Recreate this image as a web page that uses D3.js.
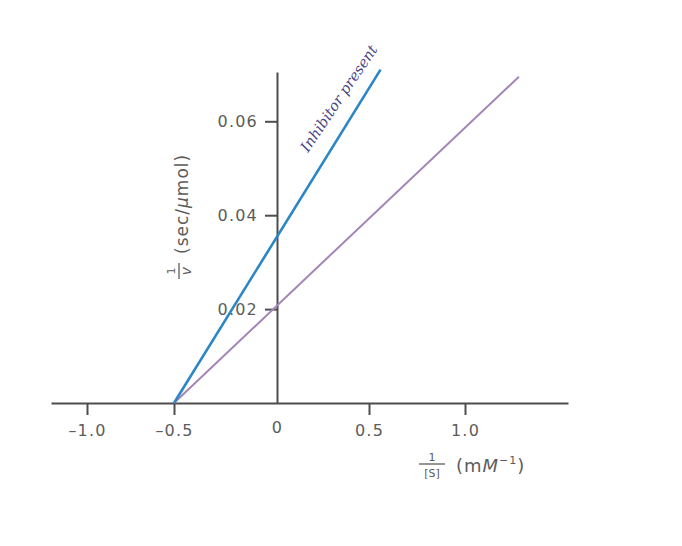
<!DOCTYPE html>
<meta charset="utf-8">
<style>
body { margin: 0; background: #fff; }
.tick text { font-family: 'DejaVu Sans', sans-serif; font-size: 16px; fill: #5c5c5c; letter-spacing: 1.2px; }
.axis path, .axis line { stroke: #4d4d4d; stroke-width: 2px; }
.ttl { font-family: 'DejaVu Sans', sans-serif; fill: #5c5c5c; }
</style>
<svg width="682" height="546"></svg>
<script src="https://d3js.org/d3.v7.min.js"></script>
<script>
// reciprocal of substrate conc (mM^-1) and reciprocal velocity (sec/umol)
var xTicks = [-1.0, -0.5, 0, 0.5, 1.0],
    yTicks = [0.02, 0.04, 0.06];

var inhibitorX = [-0.5, 0.56],
    inhibitorY = [0, 0.071];
var controlX = [-0.5, 1.28],
    controlY = [0, 0.0695];

var svg = d3.select("svg");

// the printed axis isn't evenly spaced, so map each tick where it sits
var x = d3.scaleLinear()
    .domain([-1.2, -1.0, -0.5, 0, 0.5, 1.0, 1.535])
    .range([51, 87, 174, 277, 369, 465, 568]);
var y = d3.scaleLinear()
    .domain([0, 0.0705])
    .range([403, 72]);

var xAxis = svg.append("g")
    .attr("class", "axis")
    .attr("transform", "translate(0," + y(0) + ")")
    .call(d3.axisBottom(x).tickValues(xTicks).tickSize(12).tickSizeOuter(0).tickPadding(10)
      .tickFormat(function(d) { return d === 0 ? "0" : d3.format(".1f")(d).replace("−", "–"); }));
xAxis.selectAll(".tick").filter(function(d) { return d === 0; }).select("line").remove();
xAxis.selectAll(".tick").filter(function(d) { return d === 0; }).select("text").attr("y", 19);

var yAxis = svg.append("g")
    .attr("class", "axis")
    .attr("transform", "translate(" + x(0) + ",0)")
    .call(d3.axisLeft(y).tickValues(yTicks).tickSize(12).tickSizeOuter(0).tickPadding(7)
      .tickFormat(d3.format(".2f")));

var line = d3.line()
    .x(function(d) { return x(d[0]); })
    .y(function(d) { return y(d[1]); });

svg.append("path")
    .datum(d3.zip(controlX, controlY))
    .attr("d", line)
    .attr("fill", "none")
    .attr("stroke", "#a385b7")
    .attr("stroke-width", 2);

svg.append("path")
    .datum(d3.zip(inhibitorX, inhibitorY))
    .attr("d", line)
    .attr("fill", "none")
    .attr("stroke", "#2a86c6")
    .attr("stroke-width", 2.6);

svg.append("text")
    .attr("transform", "translate(308,153) rotate(-56)")
    .attr("font-family", "'DejaVu Serif', serif")
    .attr("font-style", "italic")
    .attr("font-size", 14.5)
    .attr("fill", "#4a4785")
    .text("Inhibitor present");

// x title: 1/[S] (mM^-1)
var xt = svg.append("g").attr("class", "ttl");
xt.append("text").attr("x", 432).attr("y", 461).attr("text-anchor", "middle")
    .attr("font-size", 11).text("1");
xt.append("line").attr("x1", 419).attr("x2", 445).attr("y1", 464).attr("y2", 464)
    .attr("stroke", "#5c5c5c").attr("stroke-width", 1.3);
xt.append("text").attr("x", 432).attr("y", 477).attr("text-anchor", "middle")
    .attr("font-size", 11).text("[S]");
var xr = xt.append("text").attr("x", 456).attr("y", 472).attr("font-size", 18)
    .attr("letter-spacing", 1);
xr.append("tspan").text("(m");
xr.append("tspan").attr("font-style", "italic").text("M");
xr.append("tspan").attr("font-size", 11).attr("dy", -8).text("−1");
xr.append("tspan").attr("dy", 8).text(")");

// y title: 1/v (sec/umol)
var yt = svg.append("g").attr("class", "ttl")
    .attr("transform", "translate(179,271) rotate(-90)");
yt.append("text").attr("x", 0).attr("y", -4).attr("text-anchor", "middle")
    .attr("font-size", 11).text("1");
yt.append("line").attr("x1", -8).attr("x2", 8).attr("y1", 0).attr("y2", 0)
    .attr("stroke", "#5c5c5c").attr("stroke-width", 1.3);
yt.append("text").attr("x", 0).attr("y", 12).attr("text-anchor", "middle")
    .attr("font-size", 14).attr("font-style", "italic").text("v");
var yr = yt.append("text").attr("x", 17).attr("y", 9).attr("font-size", 17)
    .attr("letter-spacing", 1);
yr.append("tspan").text("(sec/");
yr.append("tspan").attr("font-style", "italic").text("μ");
yr.append("tspan").text("mol)");
</script>
